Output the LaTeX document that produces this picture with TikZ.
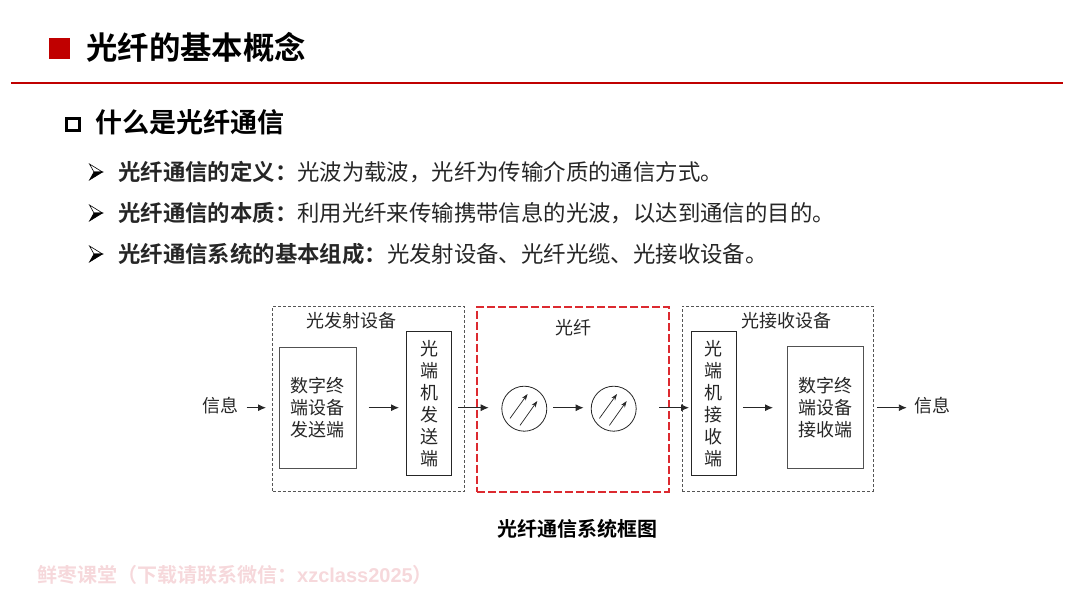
\documentclass[tikz,border=0pt]{standalone}
\usepackage{fontspec}
\setmainfont{Noto Sans CJK SC}[BoldFont={Noto Sans CJK SC Bold}]
\newfontfamily\latinbold{Liberation Sans}[BoldFont={Liberation Sans Bold}]
\usetikzlibrary{arrows.meta,calc}
\definecolor{brandred}{HTML}{C00000}
\definecolor{ink}{HTML}{262626}
\definecolor{wmark}{HTML}{F6D8DB}
\definecolor{dashred}{HTML}{DC2A30}
\definecolor{dashgrey}{HTML}{555555}
\newcommand{\fs}[1]{\fontsize{#1}{#1}\selectfont}
\tikzset{
  x=1pt,y=-1pt,
  txt/.style={inner sep=0pt,text=ink,execute at begin node={\rule[-0.12em]{0pt}{1em}}},
  title/.style={txt,anchor=west,text=black,font=\fs{31.4}\bfseries},
  subhead/.style={txt,anchor=west,text=black,font=\fs{27}\bfseries},
  bullet/.style={txt,anchor=west,font=\fs{22.4}},
  dtext/.style={txt,font=\fs{18}},
  box/.style={draw=#1,line width=0.9pt,inner sep=0pt,align=center,text=ink,font=\fs{18},anchor=north west},
  box/.default={ink},
  group/.style={draw=dashgrey,dash pattern=on 3pt off 2pt,line width=1pt,inner sep=0pt,anchor=north west},
  redgroup/.style={draw=dashred,dash pattern=on 8pt off 3pt,line width=2.2pt,inner sep=0pt,anchor=north west},
  flow/.style={draw=ink,line width=0.9pt,-{Latex[length=8pt,width=7pt]}},
  ray/.style={draw=ink,line width=0.7pt,-{Stealth[length=6.5pt,width=4.5pt]}},
  fibre/.style={circle,draw=ink,line width=0.8pt,minimum size=45pt,inner sep=0pt,anchor=center}
}
\begin{document}
\begin{tikzpicture}
\useasboundingbox (0,0) rectangle (1080,608);
% header
\node[fill=brandred,minimum width=21pt,minimum height=21pt,inner sep=0pt,anchor=north west] (hsq) at (48.3,37.3) {};
\node[title] (htitle) at (86,48) {光纤的基本概念};
\coordinate (rl) at (11,83.3);
\coordinate (rr) at (1063,83.3);
\draw[brandred,line width=1.8pt] (rl) -- (rr);
% sub heading
\node[draw=black,line width=2.6pt,minimum width=13pt,minimum height=12pt,inner sep=0pt,anchor=center] (ssq) at (73,124.3) {};
\node[subhead] (shead) at (95,122.5) {什么是光纤通信};
% bullets
\foreach \yy in {172,213,254}{
  \filldraw[fill=white,draw=black,line width=0.6pt,line join=miter] (89.5,\yy-8) -- (102.5,\yy) -- (94,\yy) -- cycle;
  \filldraw[fill=black,draw=black,line width=0.6pt,line join=miter] (89.5,\yy+8) -- (102.5,\yy) -- (94,\yy) -- cycle;
}
\node[bullet] (b1) at (118,172) {\textbf{光纤通信的定义：}光波为载波，光纤为传输介质的通信方式。};
\node[bullet] (b2) at (118,213) {\textbf{光纤通信的本质：}利用光纤来传输携带信息的光波，以达到通信的目的。};
\node[bullet] (b3) at (118,254) {\textbf{光纤通信系统的基本组成：}光发射设备、光纤光缆、光接收设备。};
% groups
\node[group,minimum width=191.5pt,minimum height=185pt] (gtx) at (272,305.5) {};
\node[redgroup,minimum width=191.5pt,minimum height=185pt] (gfib) at (476,305.5) {};
\node[group,minimum width=191pt,minimum height=185pt] (grx) at (681.7,305.5) {};
\node[dtext] (ltx) at (351,321) {光发射设备};
\node[dtext] (lfib) at (573,328) {光纤};
\node[dtext] (lrx) at (786,321) {光接收设备};
% boxes
\node[box=ink!80,minimum width=77pt,minimum height=121.5pt] (dtx) at (278.5,346.7) {数字终\\[4pt]端设备\\[4pt]发送端};
\node[box,minimum width=44.7pt,minimum height=143.7pt] (otx) at (406.3,331.3) {光\\[4pt]端\\[4pt]机\\[4pt]发\\[4pt]送\\[4pt]端};
\node[box,minimum width=44.7pt,minimum height=143.7pt] (orx) at (691,331.3) {光\\[4pt]端\\[4pt]机\\[4pt]接\\[4pt]收\\[4pt]端};
\node[box=ink!80,minimum width=76.6pt,minimum height=121.7pt] (drx) at (786.7,346.3) {数字终\\[4pt]端设备\\[4pt]接收端};
% fibres
\node[fibre] (c1) at (524.3,408.7) {};
\node[fibre] (c2) at (613.7,408.7) {};
\draw[ray] ($(c1)+(-14.3,9.7)$) -- ($(c1)+(3.3,-14.7)$);
\draw[ray] ($(c1)+(-4.3,16.7)$) -- ($(c1)+(13,-7.7)$);
\draw[ray] ($(c2)+(-14.3,9.7)$) -- ($(c2)+(3.3,-14.7)$);
\draw[ray] ($(c2)+(-4.3,16.7)$) -- ($(c2)+(13,-7.7)$);
% end labels
\node[dtext] (inL) at (220.5,406) {信息};
\node[dtext] (inR) at (932.5,406) {信息};
% connectors
\coordinate (axis) at (0,407.7);
\draw[flow,shorten <=8pt,shorten >=6pt] (inL.east |- axis) -- (gtx.west |- axis);
\draw[flow,shorten <=12.3pt,shorten >=7.3pt] (dtx.east |- axis) -- (otx.west |- axis);
\draw[flow,shorten <=6.3pt,shorten >=-12.7pt] (otx.east |- axis) -- (gfib.west |- axis);
\draw[flow,shorten <=6.2pt,shorten >=7.2pt] (c1.east |- axis) -- (c2.west |- axis);
\draw[flow,shorten <=-10.3pt,shorten >=2pt] (gfib.east |- axis) -- (orx.west |- axis);
\draw[flow,shorten <=6.3pt,shorten >=13.7pt] (orx.east |- axis) -- (drx.west |- axis);
\draw[flow,shorten <=12.7pt,shorten >=7.5pt] (drx.east |- axis) -- (inR.west |- axis);
% caption and watermark
\node[txt,text=black,font=\fs{20}\bfseries] (cap) at (577,529) {光纤通信系统框图};
\node[txt,anchor=west,text=wmark,font=\fs{20}\bfseries] (wm) at (37,575) {鲜枣课堂（下载请联系微信：{\latinbold\bfseries xzclass2025}）};
\end{tikzpicture}
\end{document}
